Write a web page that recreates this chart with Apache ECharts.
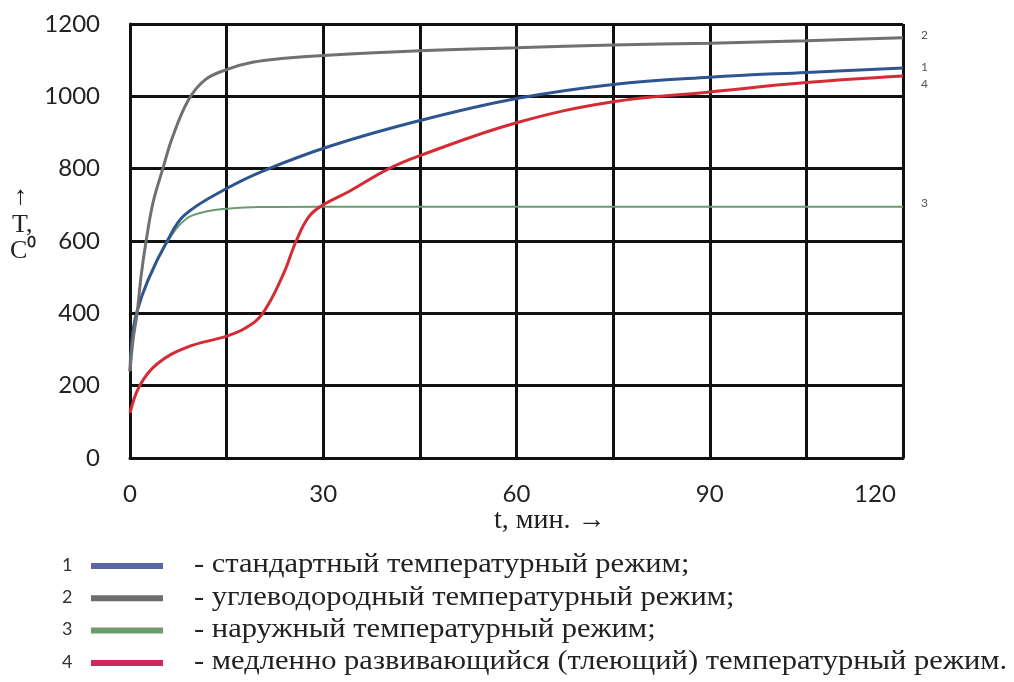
<!DOCTYPE html>
<html>
<head>
<meta charset="utf-8">
<script src="https://cdn.jsdelivr.net/npm/echarts@6/dist/echarts.min.js"></script>
<style>
  html, body { margin: 0; padding: 0; background: #fff; }
  #chart { width: 1014px; height: 682px; }
</style>
</head>
<body>
<div id="chart"></div>
<script>
// 1 - стандартный
const blueT = [0, 0.3, 1.0, 2.8, 5.9, 8.5, 15, 21, 31, 45, 60, 75, 90, 105, 120]
const blueV = [240, 326, 400, 492, 604, 672, 745, 796, 862, 933, 994, 1033, 1053, 1066, 1078]
// 2 - углеводородный
const grayT = [0, 0.5, 1.1, 1.7, 2.5, 3.6, 5.1, 6.5, 9, 11.6, 15, 19, 24, 30, 45, 60, 75, 90, 105, 120]
const grayV = [240, 330, 400, 500, 600, 708, 800, 882, 988, 1045, 1074, 1094, 1105, 1113, 1126, 1134, 1142, 1147, 1154, 1162]
// 3 - наружный
const greenT = [0, 0.3, 1.0, 2.8, 5.9, 8.8, 12, 15, 20, 30, 60, 90, 120]
const greenV = [240, 326, 400, 492, 600, 662, 682, 689, 694, 695, 695, 695, 695]
// 4 - медленно развивающийся
const redT = [0, 1.5, 4.2, 8.8, 15, 18, 20.6, 23.7, 25.8, 27.8, 30, 34, 40.2, 45, 60, 75, 90, 105, 120]
const redV = [124, 200, 260, 306, 337, 360, 400, 504, 600, 668, 700, 737, 800, 836, 927, 985, 1012, 1038, 1056]

const curveNames = ['1', '2', '3', '4']
const legendTexts = [
  '- стандартный температурный режим;',
  '- углеводородный температурный режим;',
  '- наружный температурный режим;',
  '- медленно развивающийся (тлеющий) температурный режим.',
]
const legendColors = ['#5b66a6', '#6d6d6d', '#6c9c6c', '#d0285a']

const zip = (t, v) => t.map((x, i) => [x, v[i]])

const chart = echarts.init(document.getElementById('chart'))

const sans = 'Lato'
const serif = 'Liberation Serif'

function endLabel(text, dy) {
  return {
    show: true,
    formatter: text,
    color: '#555',
    fontFamily: sans,
    fontSize: 12,
    offset: [10, dy],
  }
}

const legendGraphics = []
legendTexts.forEach((txt, i) => {
  const y = 566 + i * 32.3
  legendGraphics.push(
    {
      type: 'text', left: 62, top: y - 10,
      style: { text: curveNames[i], fontFamily: sans, fontSize: 18, fill: '#333' },
    },
    {
      type: 'rect', shape: { x: 91, y: y - 3, width: 72, height: 6 },
      style: { fill: legendColors[i] },
    },
    {
      type: 'text', x: 194, y: y - 15, scaleX: 1.09,
      style: { text: txt, fontFamily: serif, fontSize: 28, fill: '#222' },
    }
  )
})

const line = (name, t, v, color, width, label, z) => ({
  name, type: 'line', data: zip(t, v), smooth: 0.4,
  showSymbol: false, lineStyle: { color, width }, endLabel: label, z,
})

chart.setOption({
  backgroundColor: '#fff',
  animation: false,
  grid: { left: 130, right: 111, top: 24, bottom: 224 },
  xAxis: {
    type: 'value',
    min: 0,
    max: 120,
    interval: 15,
    axisLine: { show: true, lineStyle: { color: '#111', width: 3 } },
    axisTick: { show: false },
    splitLine: { show: true, lineStyle: { color: '#111', width: 3 } },
    axisLabel: {
      margin: 24,
      color: '#222',
      fontFamily: sans,
      fontSize: 24,
      formatter: (v) => (v % 30 === 0 ? (v === 120 ? '{last|120}' : String(v)) : ''),
      rich: { last: { fontFamily: sans, fontSize: 24, color: '#222', padding: [0, 56, 0, 0] } },
    },
  },
  yAxis: {
    type: 'value',
    min: 0,
    max: 1200,
    interval: 200,
    axisLine: { show: true, lineStyle: { color: '#111', width: 3 } },
    axisTick: { show: false },
    splitLine: { show: true, lineStyle: { color: '#111', width: 3 } },
    axisLabel: { margin: 30, color: '#222', fontFamily: sans, fontSize: 24, formatter: (v) => String(v) },
  },
  series: [
    line('3', greenT, greenV, '#6a9a6e', 2, endLabel('3', -4), 3),
    line('4', redT, redV, '#d42b35', 3, endLabel('4', 8), 4),
    line('1', blueT, blueV, '#2e5590', 3, endLabel('1', -1), 5),
    line('2', grayT, grayV, '#707070', 3, endLabel('2', -3), 6),
  ],
  graphic: [
    { type: 'text', left: 14, top: 184, style: { text: '↑', fontFamily: serif, fontSize: 26, fill: '#222' } },
    { type: 'text', left: 12, top: 212, style: { text: 'T,', fontFamily: serif, fontSize: 26, fill: '#222' } },
    { type: 'text', left: 10, top: 238, style: { text: 'C⁰', fontFamily: serif, fontSize: 26, fill: '#222' } },
    { type: 'text', left: 494, top: 507, style: { text: 't, мин. →', fontFamily: serif, fontSize: 28, fill: '#222' } },
    ...legendGraphics,
  ],
})
</script>
</body>
</html>
